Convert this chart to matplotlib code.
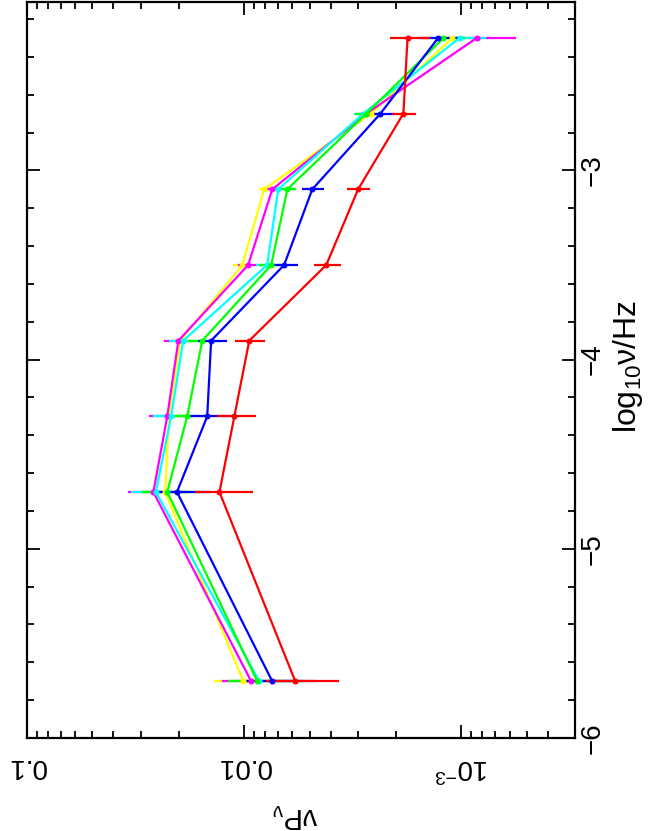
import matplotlib
matplotlib.use('Agg')
import matplotlib.pyplot as plt
from matplotlib.ticker import MultipleLocator, LogLocator, NullFormatter

plt.rcParams['font.family'] = ['Liberation Sans', 'DejaVu Sans']
plt.rcParams['mathtext.fontset'] = 'custom'
plt.rcParams['mathtext.rm'] = 'Liberation Sans'
plt.rcParams['mathtext.it'] = 'Liberation Sans'
plt.rcParams['mathtext.sf'] = 'Liberation Sans'

# log10 of frequency (Hz)
log_nu = [-5.7, -4.7, -4.3, -3.9, -3.5, -3.1, -2.7, -2.3]

# nu P_nu for each curve, with 1-sigma errors
red = [0.00582, 0.0130, 0.0111, 0.00948, 0.00419, 0.00299, 0.00185, 0.00177]
red_err = [0.00215, 0.0039, 0.0023, 0.0015, 0.0006, 0.00036, 0.00024, 0.00037]
blue = [0.00743, 0.0204, 0.0148, 0.0142, 0.00655, 0.00486, 0.00236, 0.00128]
blue_err = [0.0027, 0.0061, 0.0031, 0.0022, 0.0009, 0.00058, 0.00031, 0.00027]
green = [0.00871, 0.0226, 0.0183, 0.0156, 0.00751, 0.00633, 0.00274, 0.00121]
green_err = [0.0032, 0.0068, 0.0038, 0.0025, 0.0010, 0.00055, 0.00036, 0.00025]
cyan = [0.00853, 0.0255, 0.0217, 0.0191, 0.00784, 0.00697, 0.00283, 0.00102]
cyan_err = [0.0032, 0.0077, 0.0046, 0.0031, 0.0010, 0.0005, 0.00028, 0.00025]
magenta = [0.00929, 0.0262, 0.0226, 0.0201, 0.00959, 0.00743, 0.00274, 0.00085]
magenta_err = [0.0034, 0.0079, 0.0048, 0.0032, 0.0011, 0.0005, 0.00030, 0.00029]
yellow = [0.0101, 0.0231, 0.0222, 0.0197, 0.0102, 0.00809, 0.00262, 0.00110]
yellow_err = [0.0037, 0.0069, 0.0047, 0.0032, 0.0011, 0.0005, 0.00030, 0.00023]

# drawing order: yellow first, red on top
series = [(yellow, yellow_err, '#ffff00'),
          (magenta, magenta_err, '#ff00ff'),
          (cyan, cyan_err, '#00ffff'),
          (green, green_err, '#00ff00'),
          (blue, blue_err, '#0000ff'),
          (red, red_err, '#ff0000')]

x_ticks = [0.1, 0.01, 0.001]
x_ticklabels = ['0.1', '0.01', r'$10^{-3}$']
y_ticks = [-6, -5, -4, -3]

fig = plt.figure(figsize=(6.53, 8.31), dpi=100)
ax = fig.add_axes([27 / 653, 1 - 738 / 831, 548 / 653, 736 / 831])

for vals, errs, col in series:
    ax.errorbar(vals, log_nu, xerr=errs, color=col, lw=1.6, elinewidth=1.6,
                capsize=0, marker='o', ms=3.3, mec=col, mfc=col)

ax.set_xscale('log')
ax.set_xlim(0.1, 3.0e-4)
ax.set_ylim(-6, -2.11)

ax.set_xticks(x_ticks)
ax.set_xticklabels(x_ticklabels, rotation=180)
ax.xaxis.set_minor_locator(LogLocator(base=10, subs=range(2, 10)))
ax.xaxis.set_minor_formatter(NullFormatter())
ax.set_yticks(y_ticks)
ax.set_yticklabels(['\u22126', '\u22125', '\u22124', '\u22123'], rotation=90, va='center')
ax.yaxis.set_minor_locator(MultipleLocator(0.2))

ax.tick_params(which='both', direction='in', top=True, bottom=True, left=True, right=True,
               labelleft=False, labelright=True, width=1.3, color='black')
ax.tick_params(which='major', length=9.5)
ax.tick_params(which='minor', length=5)
ax.tick_params(axis='x', labelsize=20, pad=11)
ax.tick_params(axis='y', labelsize=20, pad=3)

for sp in ax.spines.values():
    sp.set_linewidth(1.6)

fig.text(295 / 653, 1 - 815 / 831, r'$\nu P_{\nu}$', rotation=180, fontsize=21,
         ha='center', va='center')
fig.text(628 / 653, 1 - 366 / 831, r'log$_{10}\nu$/Hz', rotation=90, fontsize=23,
         ha='center', va='center')

fig.savefig('out.png', dpi=100)
